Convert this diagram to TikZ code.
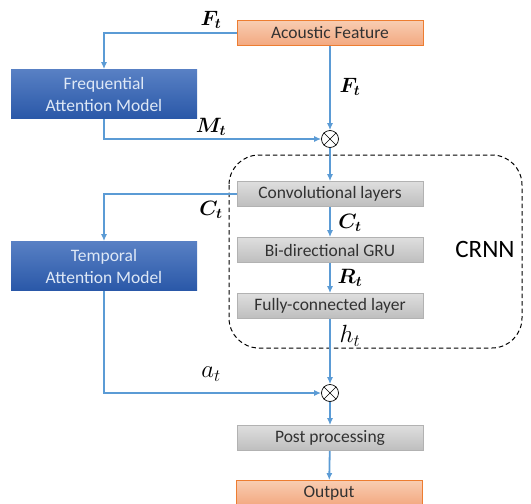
\documentclass[tikz,border=0pt]{standalone}
\usepackage{amsmath}
\usepackage{bm}
\usepackage{fontspec}
\setmainfont{Carlito}
\usepackage{tikz}
\usetikzlibrary{arrows.meta,positioning,calc}

\definecolor{linkblue}{RGB}{91,155,213}
\definecolor{boxorange}{RGB}{237,125,49}
\definecolor{orangetop}{RGB}{248,205,178}
\definecolor{orangebot}{RGB}{243,168,128}
\definecolor{graytop}{RGB}{222,222,222}
\definecolor{graybot}{RGB}{190,190,190}
\definecolor{bluetop}{RGB}{88,128,196}
\definecolor{bluebot}{RGB}{42,88,168}
\definecolor{textgray}{RGB}{50,50,50}
\definecolor{textpale}{RGB}{222,232,246}

\begin{document}
\begin{tikzpicture}[
  x=1pt,
  y=-1pt,
  font=\fontsize{17.5}{21}\selectfont,
  >={Latex[length=7pt,width=6pt]},
  link/.style={->, line width=1.8pt, draw=linkblue},
  block/.style={minimum width=186pt, minimum height=25pt, align=center,
    inner sep=1pt, line width=0.7pt, text=textgray},
  ioblock/.style={block, draw=boxorange, top color=orangetop,
    bottom color=orangebot},
  layer/.style={block, draw=black!30, top color=graytop, bottom color=graybot},
  attn/.style={block, minimum height=49pt, draw=none, text=textpale,
    top color=bluetop, bottom color=bluebot,
    font=\fontsize{17.5}{22}\selectfont},
  mult/.style={circle, draw=black, line width=0.7pt, minimum size=17pt,
    inner sep=0pt, fill=white},
  sym/.style={font=\fontsize{20}{22}\selectfont, text=black},
  plainsym/.style={font=\fontsize{23}{25}\selectfont, text=black}
]
\useasboundingbox (0,0) rectangle (531,504);

% Input and the frequential attention branch.
\node[ioblock] (feat) at (330,33) {Acoustic Feature};
\node[attn] (fam) at (104,94) {Frequential\\Attention Model};
\node[mult] (mul1) at (330,139) {};
\draw (mul1.north west) -- (mul1.south east);
\draw (mul1.north east) -- (mul1.south west);
\draw[link] (feat.west) -| (fam.north);
\draw[link] (feat.south) -- (mul1.north);
\draw[link] (fam.south) |- (mul1.west);
\node[sym] at (211,20) {$\bm{F_t}$};
\node[sym] at (350,87) {$\bm{F_t}$};
\node[sym] at (211,127) {$\bm{M_t}$};

% CRNN stack inside the dashed frame.
\draw[dash pattern=on 4.5pt off 3pt, line width=1pt, rounded corners=30pt]
  (229,155) rectangle (522,348);
\node[font=\fontsize{25}{28}\selectfont, text=black] (crnn) at (485,249) {CRNN};
\node[layer] (conv) at (330,194) {Convolutional layers};
\node[layer] (gru) at (330,250) {Bi-directional GRU};
\node[layer] (fc) at (330,306) {Fully-connected layer};
\draw[link] (mul1.south) -- (conv.north);
\draw[link] (conv) -- (gru);
\draw[link] (gru) -- (fc);
\node[sym] at (350,223) {$\bm{C_t}$};
\node[sym] at (350,278) {$\bm{R_t}$};
\node[plainsym] at (350,336) {$h_t$};

% Temporal attention branch.
\node[attn] (tam) at (104,266) {Temporal\\Attention Model};
\node[mult] (mul2) at (330,393) {};
\draw (mul2.north west) -- (mul2.south east);
\draw (mul2.north east) -- (mul2.south west);
\draw[link] (conv.west) -| (tam.north);
\draw[link] (fc.south) -- (mul2.north);
\draw[link] (tam.south) |- (mul2.west);
\node[sym] at (211,210) {$\bm{C_t}$};
\node[plainsym] at (211,374) {$a_t$};

% Output side.
\node[layer] (post) at (330,438) {Post processing};
\node[ioblock] (out) at (329,493) {Output};
\draw[link] (mul2.south) -- (post.north);
\draw[link] (post) -- (out);
\end{tikzpicture}
\end{document}
